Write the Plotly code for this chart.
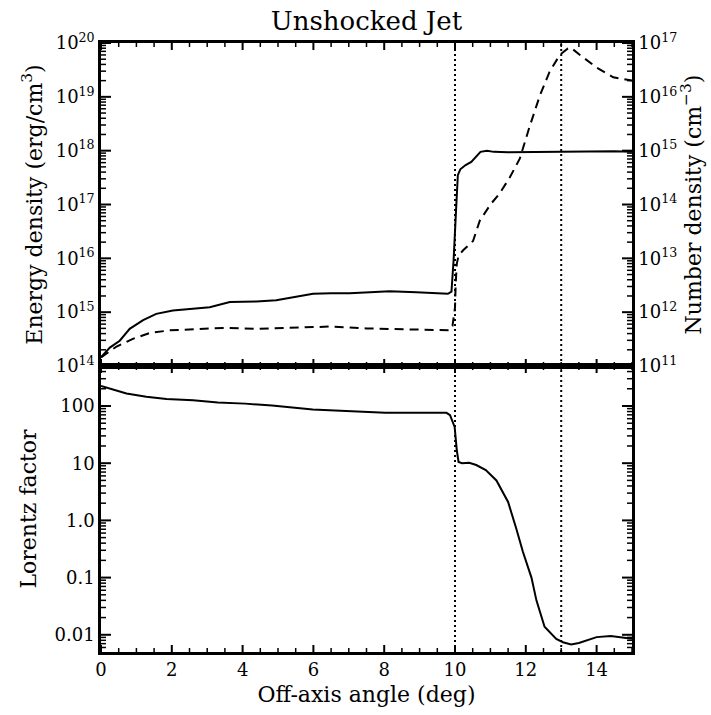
import plotly.graph_objects as go

# ---------------- data ----------------
angle_e = [0.0, 0.25, 0.53, 0.81, 1.19, 1.56, 2.03, 2.7, 3.07, 3.64, 4.39, 4.95, 5.5,
           5.99, 6.5, 7.02, 7.6, 8.15, 8.91, 9.8, 9.9, 9.96, 10.03, 10.08, 10.15, 10.3,
           10.46, 10.6, 10.72, 10.9, 11.1, 11.5, 12.5, 13.5, 14.5, 15.0]
energy = [1.45e14, 2.2e14, 2.95e14, 4.9e14, 7.1e14, 9.3e14, 1.07e15, 1.15e15, 1.23e15,
          1.55e15, 1.58e15, 1.66e15, 1.9e15, 2.19e15, 2.24e15, 2.24e15, 2.34e15, 2.45e15,
          2.34e15, 2.19e15, 2.4e15, 9.1e15, 7.9e16, 3.5e17, 4.5e17, 5.4e17, 6.2e17, 7.9e17,
          9.5e17, 1.0e18, 9.5e17, 9.3e17, 9.5e17, 9.8e17, 9.8e17, 9.5e17]

angle_n = [0.0, 0.44, 0.9, 1.38, 1.94, 2.7, 3.45, 4.39, 5.2, 5.99, 6.46, 7.5, 8.63, 9.66,
           9.85, 9.93, 10.0, 10.02, 10.05, 10.1, 10.23, 10.51, 10.7, 11.0, 11.26, 11.55,
           11.83, 12.1, 12.4, 12.67, 12.96, 13.19, 13.28, 13.53, 14.0, 14.47, 15.0]
number = [1.45e11, 2.3e11, 3.2e11, 4.1e11, 4.6e11, 4.9e11, 5.1e11, 4.9e11, 5.1e11, 5.4e11,
          5.4e11, 5.0e11, 4.8e11, 4.5e11, 4.6e11, 5.6e11, 1.23e12, 3.4e12, 7.9e12, 1.12e13,
          1.41e13, 2.1e13, 5.0e13, 1.0e14, 1.6e14, 3.2e14, 7.1e14, 2.7e15, 1.07e16, 2.9e16,
          6.0e16, 7.9e16, 8.1e16, 6.0e16, 3.5e16, 2.3e16, 2.0e16]

angle_g = [0.0, 0.25, 0.72, 1.28, 1.85, 2.6, 3.3, 4.07, 4.83, 5.98, 6.88, 8.03, 8.67, 9.76,
           9.86, 9.99, 10.05, 10.1, 10.2, 10.4, 10.6, 10.87, 11.17, 11.5, 11.73, 11.92,
           12.16, 12.3, 12.53, 12.86, 13.05, 13.28, 13.5, 13.7, 14.0, 14.4, 14.93, 15.0]
lorentz = [224, 204, 166, 145, 132, 126, 115, 110, 102, 87, 81, 76, 76, 76,
           69, 43, 17, 10.5, 10, 10.2, 9.3, 7.6, 5.0, 2.1, 0.72, 0.28,
           0.1, 0.04, 0.0138, 0.0085, 0.0074, 0.0068, 0.0072, 0.0079, 0.0091, 0.0095, 0.0087, 0.0085]

marker_angles = [10, 13]

x_ticks = [0, 2, 4, 6, 8, 10, 12, 14]
x_minor_step = 0.5
e_ticks = [1e14, 1e15, 1e16, 1e17, 1e18, 1e19, 1e20]
e_labels = ["10<sup>%d</sup>" % p for p in range(14, 21)]
n_ticks = [1e11, 1e12, 1e13, 1e14, 1e15, 1e16, 1e17]
n_labels = ["10<sup>%d</sup>" % p for p in range(11, 18)]
g_ticks = [0.01, 0.1, 1.0, 10.0, 100.0]
g_labels = ["0.01", "0.1", "1.0", "10", "100"]


def minor_log(lo, hi):
    return [float(m) * 10.0 ** p for p in range(lo, hi) for m in range(2, 10)]


FONT = "DejaVu Serif"
W, H = 711, 715
ML, MR, MT, MB = 101, 79, 43, 63
split = 0.4696
X_RANGE = [0.0, 15.0]
E_RANGE = [14.0, 20.0]
N_RANGE = [11.0, 17.0]
G_RANGE = [-2.301, 2.699]

# pixel sizes of the plot areas, used to turn tick lengths (px) into axis units
plot_w = W - ML - MR
plot_h = H - MT - MB
top_h = plot_h * (1 - split)
bot_h = plot_h * split
x_per_px = (X_RANGE[1] - X_RANGE[0]) / plot_w
dec_top_per_px = (E_RANGE[1] - E_RANGE[0]) / top_h
dec_bot_per_px = (G_RANGE[1] - G_RANGE[0]) / bot_h

fig = go.Figure()
fig.add_trace(go.Scatter(x=angle_e, y=energy, mode="lines", xaxis="x2", yaxis="y2",
                         line=dict(color="black", width=2), showlegend=False))
fig.add_trace(go.Scatter(x=angle_n, y=number, mode="lines", xaxis="x2", yaxis="y3",
                         line=dict(color="black", width=2, dash="9px,6px"), showlegend=False))
fig.add_trace(go.Scatter(x=angle_g, y=lorentz, mode="lines", xaxis="x", yaxis="y",
                         line=dict(color="black", width=2), showlegend=False))

for a in marker_angles:
    for xr, yr in [("x", "y domain"), ("x2", "y2 domain")]:
        fig.add_shape(type="line", x0=a, x1=a, y0=0, y1=1, xref=xr, yref=yr,
                      line=dict(color="black", width=2, dash="2px,3px"))


# ---- inward-pointing tick marks (IDL style), built from the tick lists ----
def tick_trace(xa, ya, yticks, ylen_px, xlen_px, log_rng, dec_per_px, width, xt):
    xs, ys = [], []
    lo, hi = X_RANGE
    dx = ylen_px * x_per_px
    for v in yticks:
        xs += [lo, lo + dx, None, hi, hi - dx, None]
        ys += [float(v), float(v), None, float(v), float(v), None]
    f = 10.0 ** (xlen_px * dec_per_px)
    ybot, ytop = 10.0 ** log_rng[0], 10.0 ** log_rng[1]
    for t in xt:
        xs += [float(t), float(t), None, float(t), float(t), None]
        ys += [ybot, ybot * f, None, ytop, ytop / f, None]
    fig.add_trace(go.Scatter(x=xs, y=ys, xaxis=xa, yaxis=ya, mode="lines",
                             line=dict(color="black", width=width), showlegend=False,
                             hoverinfo="skip"))


n_minor = int(round((X_RANGE[1] - X_RANGE[0]) / x_minor_step))
x_minor = [X_RANGE[0] + i * x_minor_step for i in range(n_minor + 1)
           if (X_RANGE[0] + i * x_minor_step) not in x_ticks]

tick_trace("x2", "y2", e_ticks, 10, 7, E_RANGE, dec_top_per_px, 2, x_ticks)
tick_trace("x2", "y2", minor_log(14, 20), 5, 4, E_RANGE, dec_top_per_px, 1.5, x_minor)
tick_trace("x", "y", g_ticks, 10, 7, G_RANGE, dec_bot_per_px, 2, x_ticks)
tick_trace("x", "y", [v for v in minor_log(-3, 3) if 10.0 ** G_RANGE[0] < v < 10.0 ** G_RANGE[1]],
           5, 4, G_RANGE, dec_bot_per_px, 1.5, x_minor)

TICKFONT = dict(family=FONT, size=18, color="black")
TITLEFONT = dict(family=FONT, size=22, color="black")


def main_axis(**kw):
    d = dict(showgrid=False, zeroline=False, showline=True, linecolor="black",
             linewidth=2.5, ticks="", tickfont=TICKFONT, automargin=False)
    d.update(kw)
    return d


fig.update_layout(
    width=W, height=H,
    margin=dict(l=ML, r=MR, t=MT, b=MB),
    paper_bgcolor="white", plot_bgcolor="white",
    font=dict(family=FONT, color="black"),
    title=dict(text="Unshocked Jet", x=0.5, xref="paper", xanchor="center",
               y=1 - 21 / H, yref="container", yanchor="middle",
               font=dict(family=FONT, size=26, color="black")),
    # bottom panel
    xaxis=main_axis(domain=[0, 1], anchor="y", range=X_RANGE, mirror=True,
                    tickmode="array", tickvals=x_ticks,
                    title=dict(text="Off-axis angle (deg)", standoff=8, font=TITLEFONT)),
    yaxis=main_axis(domain=[0, split], anchor="x", type="log", range=G_RANGE,
                    mirror=True, tickmode="array", tickvals=g_ticks, ticktext=g_labels,
                    title=dict(text="Lorentz factor", standoff=12, font=TITLEFONT)),
    # top panel
    xaxis2=main_axis(domain=[0, 1], anchor="y2", range=X_RANGE, mirror=True,
                     showticklabels=False),
    yaxis2=main_axis(domain=[split, 1], anchor="x2", type="log", range=E_RANGE,
                     tickmode="array", tickvals=e_ticks, ticktext=e_labels,
                     title=dict(text="Energy density (erg/cm<sup>3</sup>)", standoff=8,
                                font=TITLEFONT)),
    yaxis3=main_axis(domain=[split, 1], anchor="x2", overlaying="y2", side="right",
                     type="log", range=N_RANGE, tickmode="array", tickvals=n_ticks,
                     ticktext=n_labels,
                     title=dict(text="Number density (cm<sup>\u22123</sup>)", standoff=8,
                                font=TITLEFONT)),
)

fig.write_html("out.html")
